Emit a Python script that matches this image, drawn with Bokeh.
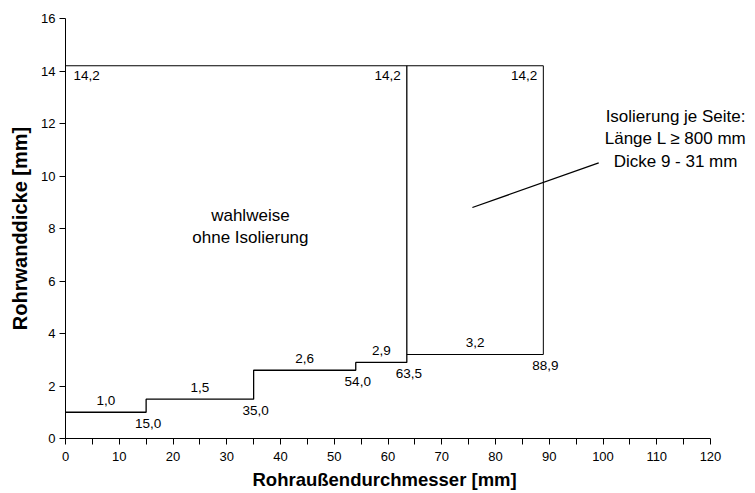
from bokeh.plotting import figure
from bokeh.models import FixedTicker, Label, Title
from bokeh.core.properties import value
from bokeh.embed import file_html
from bokeh.resources import INLINE

# ---- data ----
seg_start = [0, 15, 35, 54]
seg_end = [15, 35, 54, 63.5]
seg_thick = [1.0, 1.5, 2.6, 2.9]
iso_start = 63.5
iso_end = 88.9
iso_thick = 3.2
max_thick = 14.2
x_ticks = list(range(0, 121, 5))
y_ticks = list(range(0, 17, 2))
FONT = "Liberation Sans"

def fmt(v):
    return f"{v:.1f}".replace(".", ",")

X_MAX = 120
FRAME_W = 645  # pixels for 0..120
RIGHT_PAD = 43
x_end = X_MAX + RIGHT_PAD * X_MAX / FRAME_W

p = figure(width=755, height=493, x_range=(0, x_end), y_range=(0, 16),
           output_backend="svg", toolbar_location=None,
           min_border_left=65, min_border_right=2, min_border_top=18, min_border_bottom=55)
p.outline_line_color = None
p.xgrid.grid_line_color = None
p.ygrid.grid_line_color = None

# step line (optional without insulation)
xs, ys = [], []
for s, e, t in zip(seg_start, seg_end, seg_thick):
    xs += [s, e]
    ys += [t, t]
xs.append(seg_end[-1])
ys.append(max_thick)
p.line(xs, ys, line_color="black", line_width=1.3)
# top boundary
p.line([seg_start[0], iso_end], [max_thick, max_thick], line_color="black", line_width=1)
# insulation box
p.line([iso_start, iso_end, iso_end], [iso_thick, iso_thick, max_thick], line_color="black", line_width=1)

# leader line
p.line([75.7, 99.2], [8.8, 10.5], line_color="black", line_width=1.3)

lbl = dict(text_font=value(FONT), text_font_size="13.5px", text_color="black")

# value labels above segments
mids = [(s + e) / 2 for s, e in zip(seg_start + [iso_start], seg_end + [iso_end])]
vals = seg_thick + [iso_thick]
p.text(mids, vals, text=[fmt(v) for v in vals], text_align="center",
       text_baseline="middle", y_offset=-12, **lbl)

# breakpoint labels below segment ends
bx = seg_end + [iso_end]
by = seg_thick + [iso_thick]
p.text(bx, by, text=[fmt(v) for v in bx], text_align="center",
       text_baseline="middle", y_offset=11, x_offset=2, **lbl)

# 14,2 labels
p.text([0], [max_thick], text=[fmt(max_thick)], text_align="left",
       text_baseline="middle", x_offset=8, y_offset=10, **lbl)
p.text([iso_start, iso_end], [max_thick, max_thick], text=[fmt(max_thick)] * 2,
       text_align="right", text_baseline="middle", x_offset=-6, y_offset=10, **lbl)

big = dict(text_font=FONT, text_font_size="17px", text_color="black",
           text_align="center", text_baseline="middle")
for txt, yy in zip(["wahlweise", "ohne Isolierung"], [8.5, 7.66]):
    p.add_layout(Label(x=34.4, y=yy, text=txt, **big))
for txt, yy in zip(["Isolierung je Seite:", "Länge L ≥ 800 mm", "Dicke 9 - 31 mm"],
                   [12.27, 11.43, 10.55]):
    p.add_layout(Label(x=113.5, y=yy, text=txt, **big))

# axes
p.xaxis.ticker = FixedTicker(ticks=x_ticks)
p.xaxis.bounds = (0, X_MAX)
p.xaxis.major_label_overrides = {t: ("" if t % 10 else str(t)) for t in x_ticks}
p.yaxis.ticker = FixedTicker(ticks=y_ticks)
for ax in (p.xaxis, p.yaxis):
    ax.axis_line_color = "black"
    ax.axis_line_width = 1
    ax.major_tick_line_color = "black"
    ax.major_tick_out = 6
    ax.major_tick_in = 0
    ax.minor_tick_line_color = None
    ax.major_label_text_font = FONT
    ax.major_label_text_font_size = "13px"
    ax.major_label_text_color = "black"
    ax.axis_label_text_font = FONT
    ax.axis_label_text_font_style = "bold"
    ax.axis_label_text_color = "black"
p.yaxis.axis_label_text_font_size = "20px"
p.yaxis.axis_label = "Rohrwanddicke [mm]"
p.xaxis.major_label_standoff = 7
p.yaxis.major_label_standoff = 4
p.yaxis.axis_label_standoff = 7

# x-axis title centred under the 0..120 axis span
p.add_layout(Title(text="Rohraußendurchmesser [mm]", align="left", offset=187,
                   text_font=FONT, text_font_size="18.5px", text_font_style="bold",
                   text_color="black", standoff=6), "below")

open("out.html", "w").write(file_html(p, INLINE))
